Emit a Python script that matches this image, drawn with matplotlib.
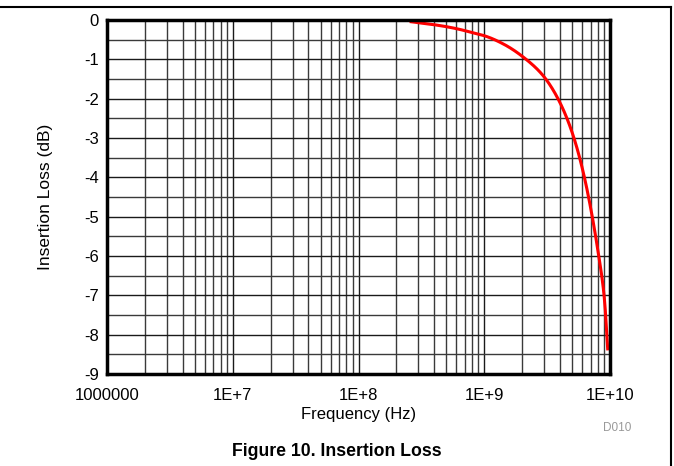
import numpy as np
import matplotlib
matplotlib.use('Agg')
import matplotlib.pyplot as plt
from matplotlib.lines import Line2D
from matplotlib.ticker import FixedLocator, FixedFormatter, LogLocator

plt.rcParams['font.family'] = ['Liberation Sans', 'DejaVu Sans']
plt.rcParams['axes.unicode_minus'] = False

# curve
freq_hz = [2.55e8, 3e8, 4e8, 5e8, 6e8, 7e8, 8e8, 1e9, 1.4e9, 2e9, 3e9, 4e9,
           5e9, 6e9, 7e9, 8e9, 9e9, 9.6e9]
loss_db = [-0.04, -0.07, -0.12, -0.17, -0.22, -0.27, -0.32, -0.40, -0.60, -0.92,
           -1.45, -2.1, -2.86, -3.75, -4.76, -5.85, -7.05, -8.4]

x_ticks = [1e6, 1e7, 1e8, 1e9, 1e10]
x_labels = ['1000000', '1E+7', '1E+8', '1E+9', '1E+10']
y_ticks = [0, -1, -2, -3, -4, -5, -6, -7, -8, -9]


def smooth(xs, ys, n=400):
    # monotone cubic (pchip style) through the read points
    xs = np.asarray(xs, float)
    ys = np.asarray(ys, float)
    h = np.diff(xs)
    d = np.diff(ys) / h
    m = np.zeros_like(ys)
    for k in range(1, len(xs) - 1):
        if d[k - 1] * d[k] > 0:
            w1 = 2 * h[k] + h[k - 1]
            w2 = h[k] + 2 * h[k - 1]
            m[k] = (w1 + w2) / (w1 / d[k - 1] + w2 / d[k])
    m[0] = d[0]
    m[-1] = d[-1]
    xf = np.linspace(xs[0], xs[-1], n)
    idx = np.clip(np.searchsorted(xs, xf) - 1, 0, len(xs) - 2)
    hh = h[idx]
    t = (xf - xs[idx]) / hh
    h00 = 2 * t**3 - 3 * t**2 + 1
    h10 = t**3 - 2 * t**2 + t
    h01 = -2 * t**3 + 3 * t**2
    h11 = t**3 - t**2
    yf = h00 * ys[idx] + h10 * hh * m[idx] + h01 * ys[idx + 1] + h11 * hh * m[idx + 1]
    return xf, yf


fig = plt.figure(figsize=(6.74, 4.66), dpi=100)
ax = fig.add_axes([107 / 674, 1 - 374 / 466, 503 / 674, 354 / 466])

# interpolate in log-log space, the loss grows roughly like a power of f
lf, ly = smooth(np.log10(freq_hz), np.log10(-np.array(loss_db)))
ax.plot(10 ** lf, -(10 ** ly), color='red', lw=2.2, zorder=3, solid_capstyle='butt')

ax.set_xscale('log')
ax.set_xlim(1e6, 1e10)
ax.set_ylim(-9, 0)

ax.xaxis.set_major_locator(FixedLocator(x_ticks))
ax.xaxis.set_major_formatter(FixedFormatter(x_labels))
ax.xaxis.set_minor_locator(LogLocator(base=10, subs=np.arange(2, 10)))
ax.xaxis.set_minor_formatter(FixedFormatter([]))
ax.set_yticks(y_ticks)
ax.set_yticks(np.arange(-8.5, 0, 1.0), minor=True)

ax.grid(which='major', color='#1a1a1a', lw=1.0)
ax.grid(which='minor', color='#3a3a3a', lw=1.0)
ax.tick_params(which='both', length=0, labelsize=12)
ax.tick_params(axis='x', pad=10)
ax.tick_params(axis='y', pad=6)
for s in ax.spines.values():
    s.set_linewidth(2.5)
    s.set_color('black')
    s.set_zorder(4)

ax.set_xlabel('Frequency (Hz)', fontsize=12, va='center')
ax.xaxis.set_label_coords(0.5, (374 - 414) / 354)
ax.set_ylabel('Insertion Loss (dB)', fontsize=12.5, va='center')
ax.yaxis.set_label_coords((45 - 107) / 503, 0.5)

fig.text(617 / 674, 1 - 428 / 466, 'D010', color='#999999', fontsize=8.5,
         ha='center', va='center')
fig.text(337 / 674, 1 - 451 / 466, 'Figure 10. Insertion Loss', fontsize=12.7,
         fontweight='bold', ha='center', va='center')

# page frame lines
fig.add_artist(Line2D([0, 671 / 674], [1 - 7 / 466, 1 - 7 / 466], color='black', lw=1.5,
                      transform=fig.transFigure))
fig.add_artist(Line2D([671 / 674, 671 / 674], [1 - 7 / 466, 0], color='black', lw=1.5,
                      transform=fig.transFigure))

fig.savefig('out.png', dpi=100)
